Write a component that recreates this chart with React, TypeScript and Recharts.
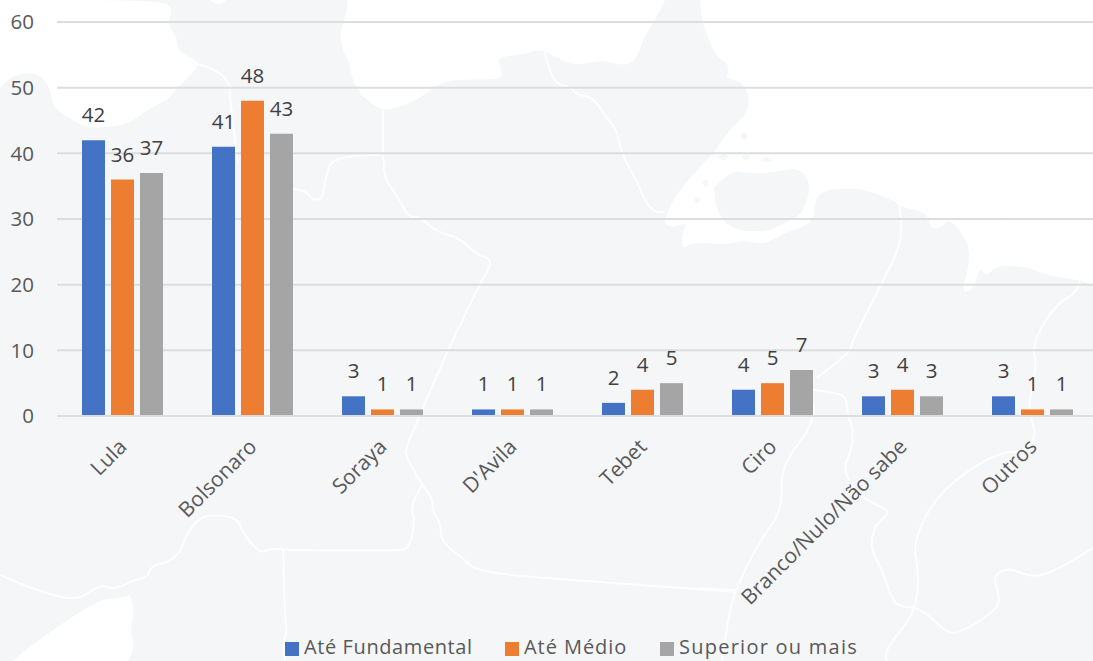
import React from 'react';
import { BarChart, Bar, XAxis, YAxis, CartesianGrid, LabelList, Legend } from 'recharts';

const categories = ['Lula', 'Bolsonaro', 'Soraya', "D'Avila", 'Tebet', 'Ciro', 'Branco/Nulo/Não sabe', 'Outros'];
const fundamental = [42, 41, 3, 1, 2, 4, 3, 3];
const medio = [36, 48, 1, 1, 4, 5, 4, 1];
const superior = [37, 43, 1, 1, 5, 7, 3, 1];
const yTicks = [0, 10, 20, 30, 40, 50, 60];
const seriesNames = ['Até Fundamental', 'Até Médio', 'Superior ou mais'];
const seriesColors = ['#4472c4', '#ed7d31', '#a5a5a5'];

const data = categories.map((name, i) => ({
  name,
  fundamental: fundamental[i],
  medio: medio[i],
  superior: superior[i],
}));

const FONT = '"Open Sans", sans-serif';
const BG = '#f5f6f8';
type Pt = number[];

function smooth(pts: Pt[], close = false): string {
  let d = `M${pts[0][0]},${pts[0][1]}`;
  for (let i = 1; i < pts.length - 1; i++) {
    const mx = (pts[i][0] + pts[i + 1][0]) / 2;
    const my = (pts[i][1] + pts[i + 1][1]) / 2;
    d += ` Q${pts[i][0]},${pts[i][1]} ${mx},${my}`;
  }
  const l = pts[pts.length - 1];
  d += ` L${l[0]},${l[1]}`;
  return close ? d + ' Z' : d;
}

const whiteAreas: Pt[][] = [
  [[0,0],[0,0],[163,0],[173,10],[167,23],[177,37],[178,53],[198,60],[198,68],[175,90],[170,98],[147,110],[130,123],[110,127],[87,128],[67,117],[53,107],[50,87],[37,72],[13,75],[0,88],[0,88]],
  [[347,0],[347,0],[347,13],[340,30],[342,50],[350,63],[352,80],[363,97],[380,110],[397,108],[417,100],[440,83],[457,79],[500,80],[503,72],[495,57],[523,55],[538,49],[549,53],[564,62],[579,65],[602,60],[625,66],[636,60],[644,37],[659,13],[665,0],[665,0]],
  [[700,0],[700,0],[702,23],[716,57],[727,62],[729,72],[725,78],[742,82],[750,97],[746,115],[727,133],[716,150],[697,170],[674,197],[663,223],[672,228],[688,222],[682,233],[682,250],[693,242],[727,245],[742,240],[765,245],[784,233],[814,223],[814,200],[825,190],[848,188],[867,190],[897,202],[901,207],[927,212],[931,230],[942,227],[950,218],[969,243],[969,267],[961,293],[973,290],[980,267],[986,277],[997,265],[1030,267],[1045,275],[1079,280],[1093,285],[1093,285]],
  [[130,595],[135,607],[130,630],[135,647],[128,661],[128,661],[13,661],[13,661],[27,648],[97,600],[120,598],[130,595]],
  [[210,0],[210,0],[215,4],[222,4],[226,0],[226,0]],
];
const rightCornerFill = 'M700,0 L1093,0 L1093,285 Z';

const grayIslands: Pt[][] = [
  [[714,187],[731,170],[746,173],[772,173],[799,167],[810,183],[808,200],[799,217],[776,227],[765,232],[731,230],[716,210],[714,187]],
  [[740,136],[744,131],[749,136],[744,141],[740,136]],
  [[718,157],[723,153],[729,157],[723,161],[718,157]],
  [[741,157],[746,153],[752,157],[746,161],[741,157]],
  [[760,160],[767,156],[774,160],[767,163],[760,160]],
  [[694,200],[697,196],[701,200],[697,205],[694,200]],
  [[702,183],[706,178],[709,183],[706,188],[702,183]],
];

const whiteLines: Pt[][] = [
  [[198,64],[217,70],[230,83],[230,100],[238,163]],
  [[293,189],[305,190],[313,200],[322,200],[325,180],[332,157],[380,155]],
  [[383,110],[382,170],[390,187],[400,200],[408,217],[420,217],[437,232],[460,238],[477,255],[490,258],[490,267],[482,280],[450,345],[420,415],[407,445],[405,455],[422,485],[432,497],[433,513],[440,522],[442,543],[463,558],[478,573],[613,583],[737,592]],
  [[422,485],[410,505],[415,520],[410,547],[400,551],[283,550],[273,548],[263,552],[257,550],[243,533],[237,518],[217,515],[200,517],[187,533],[180,553],[167,563],[152,565],[147,578],[133,580],[115,590],[100,584],[77,602],[30,588],[0,575]],
  [[283,550],[285,620],[287,630],[283,643],[285,661]],
  [[545,52],[551,83],[572,87],[576,95],[593,97],[608,120],[617,130],[621,153],[638,183],[646,203],[655,212],[665,212]],
  [[899,203],[903,230],[897,253],[882,283],[863,320],[852,343],[850,352],[817,378]],
  [[813,390],[840,393],[847,400],[847,415],[853,427],[852,450],[842,470],[860,497],[882,507],[890,513],[875,525],[870,547],[882,570],[890,593],[897,607],[920,607],[947,633],[960,633],[1000,608],[998,590],[993,577],[1007,567],[1033,578],[1057,570],[1093,548]],
  [[813,403],[817,420],[780,467],[783,510],[760,540],[735,590],[728,620],[722,661]],
  [[700,588],[735,590]],
  [[1080,282],[1077,293],[1057,303],[1032,342],[1037,367],[1027,410],[1037,433],[1027,452],[997,452],[940,490],[913,540],[918,570],[918,593],[912,617],[885,650],[887,661]],
];

function MapBackground() {
  return (
    <svg width={1093} height={661} style={{ position: 'absolute', left: 0, top: 0 }}>
      <rect width={1093} height={661} fill={BG} />
      {whiteAreas.map((a, i) => <path key={i} d={smooth(a, true)} fill="#ffffff" />)}
      <path d={rightCornerFill} fill="#ffffff" />
      {grayIslands.map((a, i) => <path key={i} d={smooth(a, true)} fill={BG} />)}
      {whiteLines.map((a, i) => (
        <path key={i} d={smooth(a)} fill="none" stroke="#ffffff" strokeWidth={2} strokeOpacity={0.85} strokeLinejoin="round" />
      ))}
    </svg>
  );
}

function CategoryTick(props: any) {
  const { x, y, payload } = props;
  const ax = x + 6;
  const ay = y + 24;
  return (
    <text x={ax} y={ay} textAnchor="end" fontSize={21} fontFamily={FONT} fill="#595959" transform={`rotate(-45 ${ax} ${ay})`}>
      {payload.value}
    </text>
  );
}

function LegendContent() {
  const lefts = [285, 505, 660];
  const spacing = [0.6, 0.95, 1.25];
  return (
    <div style={{ position: 'relative', height: 24, fontFamily: FONT, fontSize: 20, color: '#595959' }}>
      {seriesNames.map((n, i) => (
        <div key={n} style={{ position: 'absolute', left: lefts[i], top: 0, whiteSpace: 'nowrap', lineHeight: '24px', letterSpacing: spacing[i] }}>
          <span style={{ display: 'inline-block', width: 14, height: 14, background: seriesColors[i], marginRight: 5, verticalAlign: -2 }} />
          {n}
        </div>
      ))}
    </div>
  );
}

const labelStyle = { fontSize: 20.5, fontFamily: FONT, fill: '#404040' };

export default function App() {
  return (
    <div style={{ position: 'fixed', left: 0, top: 0, width: 1093, height: 661, overflow: 'hidden', background: BG }}>
      <MapBackground />
      <div style={{ position: 'absolute', left: 0, top: 0 }}>
        <BarChart
          width={1097}
          height={661}
          data={data}
          margin={{ top: 22, right: 0, bottom: 0, left: 0 }}
          barSize={23}
          barGap={6}
          style={{ background: 'transparent' }}
        >
          <CartesianGrid vertical={false} stroke="#dcdde0" strokeWidth={2} />
          <XAxis
            dataKey="name"
            height={221}
            interval={0}
            tick={<CategoryTick />}
            tickLine={false}
            axisLine={{ stroke: '#dcdde0', strokeWidth: 2 }}
          />
          <YAxis
            width={57}
            domain={[0, 60]}
            ticks={yTicks}
            tickSize={0}
            tickMargin={23}
            axisLine={false}
            tickLine={false}
            tick={{ fontSize: 20.5, fontFamily: FONT, fill: '#595959' }}
          />
          <Legend content={<LegendContent />} wrapperStyle={{ position: 'absolute', left: 0, top: 635, width: 1093, height: 24 }} />
          <Bar dataKey="fundamental" name={seriesNames[0]} fill={seriesColors[0]} isAnimationActive={false}>
            <LabelList dataKey="fundamental" position="top" offset={18} style={labelStyle} />
          </Bar>
          <Bar dataKey="medio" name={seriesNames[1]} fill={seriesColors[1]} isAnimationActive={false}>
            <LabelList dataKey="medio" position="top" offset={18} style={labelStyle} />
          </Bar>
          <Bar dataKey="superior" name={seriesNames[2]} fill={seriesColors[2]} isAnimationActive={false}>
            <LabelList dataKey="superior" position="top" offset={18} style={labelStyle} />
          </Bar>
        </BarChart>
      </div>
    </div>
  );
}
